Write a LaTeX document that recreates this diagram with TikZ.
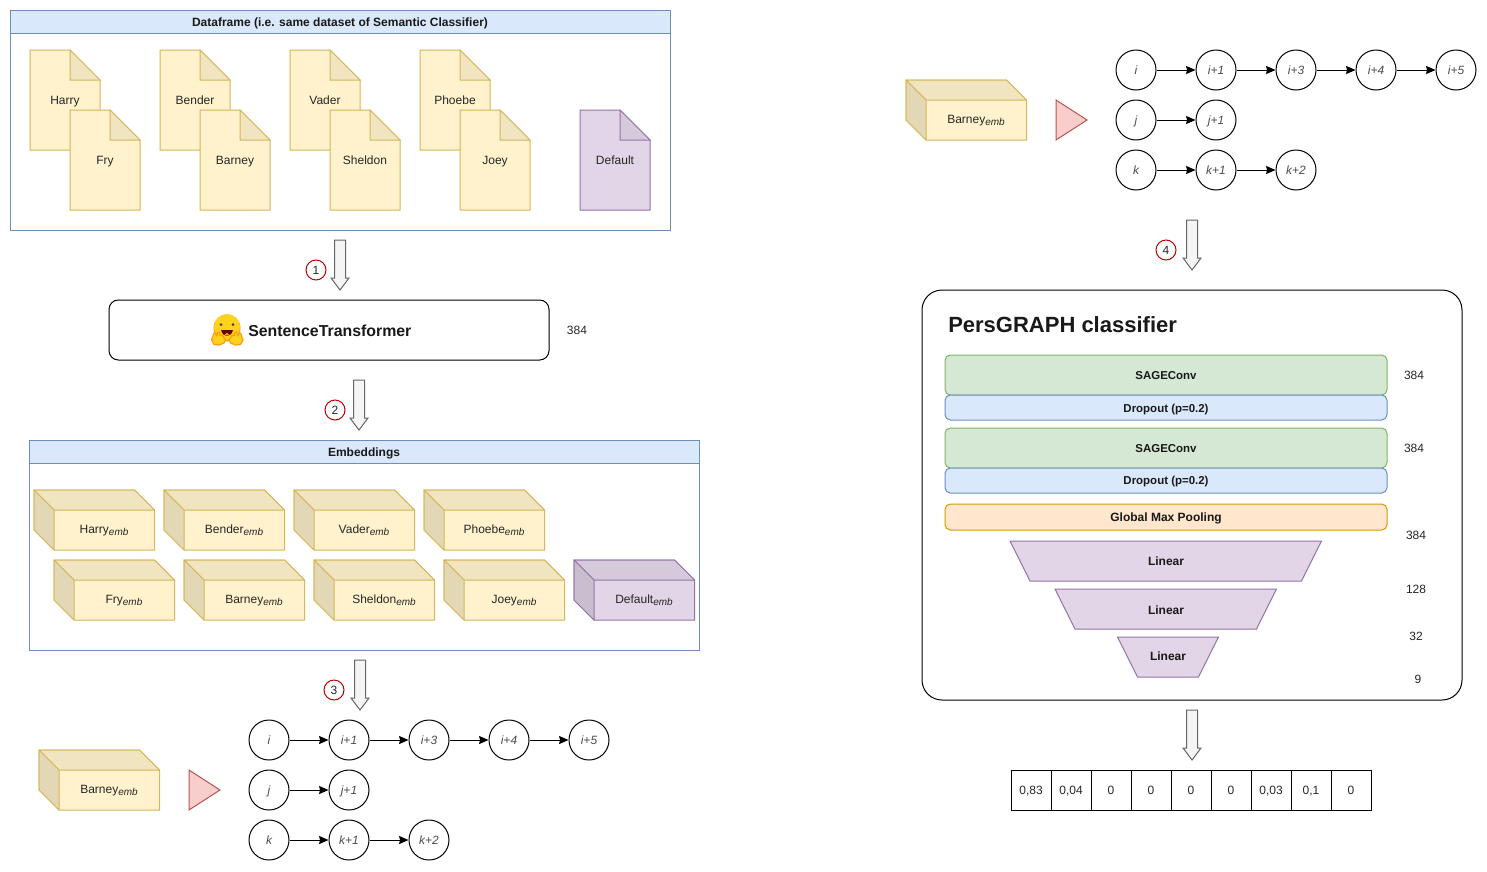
\documentclass[tikz,border=0pt]{standalone}
\usepackage{fontspec}
\setmainfont{Liberation Sans}
\usetikzlibrary{arrows.meta}
\definecolor{yf}{HTML}{FFF2CC}\definecolor{ys}{HTML}{D6B656}
\definecolor{yft}{HTML}{F0E4C1}\definecolor{yfl}{HTML}{E3D8B6}
\definecolor{pf}{HTML}{E1D5E7}\definecolor{ps}{HTML}{9673A6}
\definecolor{pft}{HTML}{D5CADB}\definecolor{pfl}{HTML}{C8BECE}
\definecolor{bf}{HTML}{DAE8FC}\definecolor{bs}{HTML}{6C8EBF}
\definecolor{gf}{HTML}{D5E8D4}\definecolor{gs}{HTML}{82B366}
\definecolor{of}{HTML}{FFE6CC}\definecolor{os}{HTML}{D79B00}
\definecolor{rf}{HTML}{F8CECC}\definecolor{rs}{HTML}{B85450}
\definecolor{af}{HTML}{F5F5F5}\definecolor{as}{HTML}{666666}
\definecolor{hgy}{HTML}{FFD21E}\definecolor{hgo}{HTML}{FF9D0B}
\tikzset{
  fixh/.style={text height=7.5pt,text depth=1.5pt,inner sep=0pt},
  lbl/.style={fixh,font=\fontsize{9}{11}\selectfont,text=black!85},
  hdr/.style={fixh,font=\fontsize{9}{11}\selectfont\bfseries,text=black!90},
  hdrs/.style={fixh,font=\fontsize{8.6}{11}\selectfont\bfseries,text=black!90},
  gnode/.style={circle,draw=black,line width=.75pt,minimum size=30pt,fixh,font=\fontsize{9}{11}\selectfont\itshape,text=black!70},
  gedge/.style={-{Stealth[length=7pt,width=6pt,inset=0.6pt]},line width=.75pt},
  stepmark/.style={circle,draw=red!75!black,line width=.75pt,minimum size=15pt,fixh,font=\fontsize{9}{11}\selectfont,text=black!85},
  rbar/.style={rounded corners=4pt,line width=.75pt},
  cellbox/.style={draw=black,line width=.75pt,minimum width=30pt,minimum height=30pt,fixh,font=\fontsize{9}{11}\selectfont,text=black!85},
  blockarrow/.style={draw=as,fill=af,line width=.75pt,line join=miter},
}
\newcommand{\docshape}[6]{%
  \draw[fill=#5,draw=#6,line width=.75pt] (#2,#3) -- ++(40,0) -- ++(30,30) -- ++(0,70) -- ++(-70,0) -- cycle;
  \draw[fill=#5t,draw=#6,line width=.75pt] (#2+40,#3) -- ++(30,30) -- ++(-30,0) -- cycle;
  \node[lbl] (#1) at (#2+35,#3+50) {#4};}
\newcommand{\embsub}{\raisebox{-2pt}{\fontsize{7.5}{8}\selectfont\itshape emb}}
\newcommand{\boxshape}[6]{%
  \draw[fill=#5,draw=#6,line width=.75pt,line join=round] (#2,#3) -- ++(100.5,0) -- ++(20,20) -- ++(0,40) -- ++(-100.5,0) -- ++(-20,-20) -- cycle;
  \draw[fill=#5t,draw=#6,line width=.75pt,line join=round] (#2,#3) -- ++(100.5,0) -- ++(20,20) -- ++(-100.5,0) -- cycle;
  \draw[fill=#5l,draw=#6,line width=.75pt,line join=round] (#2,#3) -- ++(20,20) -- ++(0,40) -- ++(-20,-20) -- cycle;
  \node[lbl] (#1) at (#2+70,#3+39) {#4\embsub};}
\newcommand{\blockdown}[3]{%
  \draw[blockarrow] (#2-5.5,#3) -- (#2+5.5,#3) -- (#2+5.5,#3+38) -- (#2+9,#3+38) -- (#2,#3+50) -- (#2-9,#3+38) -- (#2-5.5,#3+38) -- cycle;
  \coordinate (#1) at (#2,#3+50);}
\newcommand{\swimlane}[7]{%
  \draw[fill=white,draw=bs,line width=.75pt] (#2,#3) rectangle (#4,#5);
  \draw[fill=bf,draw=bs,line width=.75pt] (#2,#3) rectangle (#4,#6);
  \node[hdr] (#1) at ({(#2+#4)/2},{(#3+#6)/2+1}) {#7};}
\newcommand{\barneygraph}[3]{%
  \foreach \nm/\tx/\cx/\ry in {a/i/0/0,b/i+1/80/0,c/i+3/160/0,d/i+4/240/0,e/i+5/320/0,f/j/0/50,g/j+1/80/50,h/k/0/100,m/k+1/80/100,n/k+2/160/100}
    \node[gnode] (#1\nm) at (#2+\cx,#3+\ry) {\tx};
  \foreach \p/\q in {a/b,b/c,c/d,d/e,f/g,h/m,m/n}
    \draw[gedge] (#1\p) -- (#1\q);}
\begin{document}
\begin{tikzpicture}[x=.75pt,y=-.75pt]
\useasboundingbox (0,0) rectangle (1487,871);
\swimlane{dfh}{10}{10}{670}{230}{33}{Dataframe (i.e. same dataset of Semantic Classifier)}
\docshape{harry}{30}{50}{Harry}{yf}{ys}
\docshape{fry}{70}{110}{Fry}{yf}{ys}
\docshape{bender}{160}{50}{Bender}{yf}{ys}
\docshape{barney}{200}{110}{Barney}{yf}{ys}
\docshape{vader}{290}{50}{Vader}{yf}{ys}
\docshape{sheldon}{330}{110}{Sheldon}{yf}{ys}
\docshape{phoebe}{420}{50}{Phoebe}{yf}{ys}
\docshape{joey}{460}{110}{Joey}{yf}{ys}
\docshape{default}{580}{110}{Default}{pf}{ps}
\blockdown{a1}{340}{240}
\node[stepmark] (s1) at (316,270) {1};
\blockdown{a2}{359}{380}
\node[stepmark] (s2) at (335,410) {2};
\blockdown{a3}{360}{660}
\node[stepmark] (s3) at (334,690) {3};
\blockdown{a4}{1192}{220}
\node[stepmark] (s4) at (1166,250) {4};
\blockdown{a5}{1192}{710}
\draw[fill=white,draw=black,line width=.75pt,rounded corners=7pt] (109,300) rectangle (549,360);
\node[font=\fontsize{11.9}{14}\selectfont\bfseries,text=black!90,inner sep=0pt,anchor=west] (st) at (248,331) {SentenceTransformer};
\node[lbl] (n384a) at (577,330) {384};
% hugging face icon
\fill[hgo] (227,328) circle (13.5);
\fill[hgy] (227,327) circle (13);
\fill[black!75] (221,324.5) circle (1.5) (233,324.5) circle (1.5);
\fill[black!60!red] (221,330) .. controls (223,338) and (231,338) .. (233,330) -- cycle;
\fill[hgo] (224.5,334.5) .. controls (225.5,332.5) and (228.5,332.5) .. (229.5,334.5) .. controls (228,336) and (226,336) .. (224.5,334.5) -- cycle;
\fill[hgy,draw=hgo,line width=.9pt,line join=round] (211.5,340) -- (214,333) -- (215.5,333) -- (216.5,336) -- (218,332) -- (219.5,332) -- (220,335.5) -- (222,335) -- (225.5,339.5) -- (224,343) -- (219,345) -- (214,344.5) -- cycle;
\fill[hgy,draw=hgo,line width=.9pt,line join=round] (243,340) -- (240.5,333) -- (239,333) -- (238,336) -- (236.5,332) -- (235,332) -- (234.5,335.5) -- (232.5,335) -- (229,339.5) -- (230.5,343) -- (235.5,345) -- (240.5,344.5) -- cycle;
\swimlane{emh}{29}{440}{699}{650}{463}{Embeddings}
\boxshape{harrye}{34}{490}{Harry}{yf}{ys}
\boxshape{bendere}{164}{490}{Bender}{yf}{ys}
\boxshape{vadere}{294}{490}{Vader}{yf}{ys}
\boxshape{phoebee}{424}{490}{Phoebe}{yf}{ys}
\boxshape{frye}{54}{560}{Fry}{yf}{ys}
\boxshape{barneye}{184}{560}{Barney}{yf}{ys}
\boxshape{sheldone}{314}{560}{Sheldon}{yf}{ys}
\boxshape{joeye}{444}{560}{Joey}{yf}{ys}
\boxshape{defaulte}{574}{560}{Default}{pf}{ps}
\boxshape{barneyl}{39}{750}{Barney}{yf}{ys}
\draw[fill=rf,draw=rs,line width=.75pt] (189,770) -- (220,790) -- (189,810) -- cycle;
\barneygraph{l}{269}{740}
\boxshape{barneyr}{906}{80}{Barney}{yf}{ys}
\draw[fill=rf,draw=rs,line width=.75pt] (1056,100) -- (1087,120) -- (1056,140) -- cycle;
\barneygraph{r}{1136}{70}
\draw[fill=white,draw=black,line width=.75pt,rounded corners=15pt] (922,290) rectangle (1462,700);
\node[font=\fontsize{16.5}{20}\selectfont\bfseries,text=black!90,inner sep=0pt,anchor=west] (pg) at (948,325) {PersGRAPH classifier};
\draw[rbar,fill=gf,draw=gs] (945,355) rectangle (1387,395);
\node[hdrs] (sc1) at (1166,375) {SAGEConv};
\draw[rbar,fill=bf,draw=bs] (945,395) rectangle (1387,420);
\node[hdrs] (do1) at (1166,408) {Dropout (p=0.2)};
\draw[rbar,fill=gf,draw=gs] (945,428) rectangle (1387,468);
\node[hdrs] (sc2) at (1166,448) {SAGEConv};
\draw[rbar,fill=bf,draw=bs] (945,468) rectangle (1387,493);
\node[hdrs] (do2) at (1166,480) {Dropout (p=0.2)};
\draw[rbar,fill=of,draw=os] (945,504) rectangle (1387,530);
\node[hdr] (gmp) at (1166,517) {Global Max Pooling};
\draw[fill=pf,draw=ps,line width=.75pt] (1010,541) -- (1321.5,541) -- (1301.5,581) -- (1030,581) -- cycle;
\node[hdr] (l1) at (1166,561) {Linear};
\draw[fill=pf,draw=ps,line width=.75pt] (1055,589) -- (1276.5,589) -- (1256.5,629) -- (1075,629) -- cycle;
\node[hdr] (l2) at (1166,610) {Linear};
\draw[fill=pf,draw=ps,line width=.75pt] (1117.5,637) -- (1218.5,637) -- (1198.5,677) -- (1137.5,677) -- cycle;
\node[hdr] (l3) at (1168,656) {Linear};
\node[lbl] (n1) at (1414,375) {384};
\node[lbl] (n2) at (1414,448) {384};
\node[lbl] (n3) at (1416,535) {384};
\node[lbl] (n4) at (1416,589) {128};
\node[lbl] (n5) at (1416,636) {32};
\node[lbl] (n6) at (1418,679) {9};
\foreach \v [count=\i from 0] in {0{,}83,0{,}04,0,0,0,0,0{,}03,0{,}1,0}
  \node[cellbox] (cell\i) at (1031+40*\i,790) {\v};
\end{tikzpicture}
\end{document}
